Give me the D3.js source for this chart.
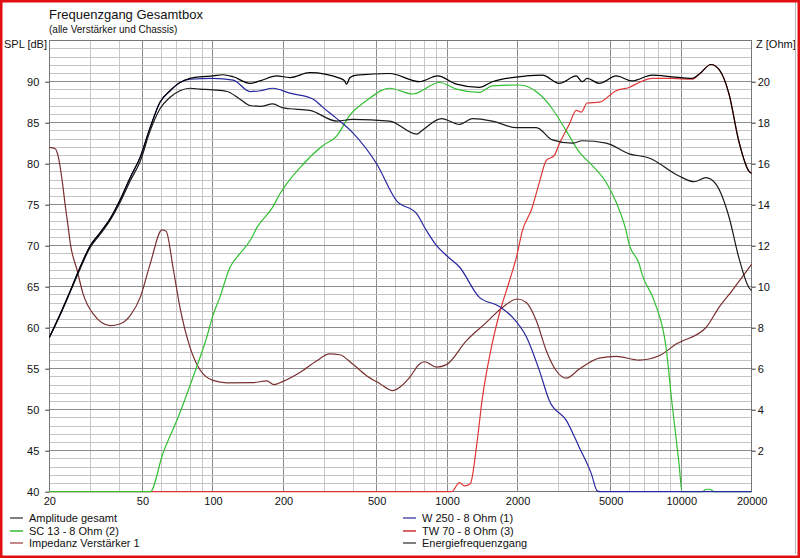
<!DOCTYPE html>
<html>
<head>
<meta charset="utf-8">
<script src="https://cdn.jsdelivr.net/npm/d3@7"></script>
<style>
  body { margin: 0; background: #fff; }
  svg text { font-family: "Liberation Sans", Arial, sans-serif; fill: #111; }
</style>
</head>
<body>
<div class="canvas"></div>
<script>
// [frequency Hz, value] pairs
const ampGesamt = [[20,58.8],[22.3,61.7],[24.6,64.5],[27.1,67.4],[29.9,70.0],[33,71.6],[36.4,73.3],[40,75.5],[44.3,78.3],[48.9,80.8],[53.9,84.4],[59.4,87.5],[65.6,88.9],[72.3,89.9],[79.8,90.4],[88,90.6],[100,90.7],[110,90.85],[122,90.6],[144,89.8],[159,90.1],[187,90.7],[213,90.5],[259,91.1],[350,90.4],[365,90.1],[372,89.7],[385,90.5],[411,90.8],[568,91.0],[763,90.0],[910,90.7],[1096,89.7],[1374,89.3],[1562,90.0],[2180,90.7],[2552,90.8],[3014,89.8],[3562,90.7],[3778,90.0],[3968,90.4],[4464,89.8],[5276,90.7],[6170,90.1],[7510,90.8],[9140,90.6],[11120,90.4],[11920,90.9],[13400,92.1],[14500,91.5],[16000,88.5],[17600,82.8],[19450,79.1],[20000,78.8]];

const energie = [[20,58.8],[22.3,61.6],[24.6,64.4],[27.1,67.2],[29.9,69.8],[33,71.4],[36.4,73.1],[40,75.2],[44.3,77.9],[48.9,80.3],[53.9,84.0],[59.4,86.7],[65.6,88.1],[72.3,88.9],[79.8,89.2],[88,89.1],[100,89.0],[115,88.8],[130,87.9],[144,87.1],[160,87.0],[180,87.3],[199,86.8],[213,86.7],[259,86.5],[338,85.2],[395,85.4],[568,85.2],[741,83.6],[786,84.1],[946,85.5],[1130,84.8],[1284,85.5],[1562,85.2],[1978,84.4],[2406,84.4],[2814,82.9],[3426,82.5],[3778,82.8],[4782,82.5],[5992,81.2],[7292,80.7],[9790,78.5],[11350,77.8],[12760,78.3],[14070,77.5],[16000,73.5],[17600,68.6],[19450,64.9],[20000,64.5]];

const w250 = [[20,58.8],[22.3,61.7],[24.6,64.5],[27.1,67.4],[29.9,70.0],[33,71.6],[36.4,73.3],[40,75.5],[44.3,78.3],[48.9,80.8],[53.9,84.4],[59.4,87.5],[65.6,88.9],[72.3,89.9],[79.8,90.3],[100,90.4],[122,90.2],[144,88.8],[159,88.9],[180,89.2],[213,88.6],[267,87.9],[294,86.9],[338,85.5],[395,83.8],[500,80.0],[608,75.5],[741,73.9],[818,71.8],[902,70.0],[994,68.8],[1130,67.4],[1374,63.7],[1672,62.6],[1900,61.3],[2180,58.9],[2477,54.8],[2734,51.1],[3230,48.7],[3670,45.4],[4130,42.2],[4376,40.1],[4500,40],[20000,40]];

const sc13 = [[20,40],[54,40],[61,44.6],[72,49.5],[82,53.9],[94,58.8],[100,61.5],[107,63.7],[118,67.3],[130,69.0],[144,70.6],[154,72.2],[180,74.7],[193,76.3],[235,79.5],[294,82.2],[338,83.4],[384,85.9],[453,87.7],[568,89.2],[712,88.5],[928,89.9],[1096,89.1],[1374,88.7],[1562,89.5],[2036,89.6],[2477,88.5],[2814,86.7],[3230,84.0],[3670,81.4],[4166,79.8],[4782,77.7],[5276,75.3],[5818,71.8],[5992,70.2],[6608,67.8],[6808,66.5],[7658,63.3],[8614,57.6],[9140,50.7],[9790,43.4],[10080,40],[12300,40],[12800,40.3],[13300,40.3],[13800,40],[20000,40]];

const tw70 = [[20,40],[1044,40],[1130,41.1],[1186,40.7],[1258,41.0],[1334,45.4],[1416,51.5],[1546,57.6],[1672,61.7],[1846,65.7],[1978,68.6],[2096,71.8],[2300,74.5],[2477,77.7],[2654,80.4],[2870,81.0],[3014,82.4],[3326,84.8],[3562,86.5],[3742,86.3],[3968,87.4],[4464,87.5],[5276,88.9],[5992,89.3],[6608,89.9],[7510,90.4],[9140,90.4],[11120,90.3],[11920,90.9],[13400,92.1],[14500,91.5],[16000,88.5],[17600,82.8],[19450,79.1],[20000,78.8]];

// impedance in Ohm (right axis)
const impedanz = [[20,16.8],[21.2,16.73],[21.8,16.39],[22.7,15.17],[23.4,13.95],[24.1,12.88],[24.6,12.1],[26.3,10.8],[27.9,9.64],[30.8,8.67],[36.4,8.1],[40,8.18],[44.3,8.59],[48.9,9.48],[53.9,11.1],[60.6,12.77],[63.1,12.7],[67.6,10.9],[72.3,8.99],[79.8,7.04],[88,5.95],[100,5.43],[115,5.31],[148,5.32],[170,5.41],[182,5.22],[199,5.38],[235,5.82],[278,6.39],[315,6.72],[348,6.68],[395,6.23],[453,5.66],[515,5.28],[585,4.93],[627,5.09],[692,5.58],[763,6.23],[802,6.34],[902,6.08],[994,6.2],[1210,7.37],[1472,8.26],[1722,8.99],[1996,9.40],[2180,9.23],[2406,8.34],[2654,6.88],[2926,5.90],[3230,5.54],[3670,5.98],[4464,6.52],[5276,6.60],[6608,6.42],[8040,6.63],[9506,7.20],[12760,8.01],[14500,8.99],[16470,9.80],[20000,11.1]];

const freqTicks = [20, 50, 100, 200, 500, 1000, 2000, 5000, 10000, 20000];
const splTicks = [40, 45, 50, 55, 60, 65, 70, 75, 80, 85, 90];
const zTicks = [2, 4, 6, 8, 10, 12, 14, 16, 18, 20];

const legendLeft = [
  { name: "Amplitude gesamt", color: "#555555" },
  { name: "SC 13 - 8 Ohm (2)", color: "#33bb33" },
  { name: "Impedanz Verstärker 1", color: "#b06060" }
];
const legendRight = [
  { name: "W 250 - 8 Ohm (1)", color: "#5555aa" },
  { name: "TW 70 - 8 Ohm (3)", color: "#cc3333" },
  { name: "Energiefrequenzgang", color: "#555555" }
];

const W = 800, H = 558;
const plot = { left: 49.3, right: 751.7, top: 40.7, bottom: 491.7 };

const svg = d3.select(".canvas").append("svg").attr("width", W).attr("height", H);

const x = d3.scaleLog().domain([20, 20000]).range([plot.left, plot.right]);
const y = d3.scaleLinear().domain([40, 95]).range([plot.bottom, plot.top]);
const z = d3.scaleLinear().domain([0, 22]).range([plot.bottom, plot.top]);

// vertical grid: 1-2-5 darker, others lighter
const vLines = [];
[10, 100, 1000, 10000].forEach((dec) => {
  for (let m = 1; m <= 9; m++) {
    const f = dec * m;
    if (f > 20 && f < 20000) vLines.push(f);
  }
});
svg.append("g")
  .selectAll("line")
  .data(vLines)
  .join("line")
  .attr("x1", (d) => x(d)).attr("x2", (d) => x(d))
  .attr("y1", plot.top).attr("y2", plot.bottom)
  .attr("stroke", (d) => ([1, 2, 5].includes(+String(d)[0]) ? "#8c8c8c" : "#c8c8c8"))
  .attr("stroke-width", 1)
  .attr("shape-rendering", "crispEdges");

// horizontal grid every 1 dB
svg.append("g")
  .selectAll("line")
  .data(d3.range(41, 95))
  .join("line")
  .attr("x1", plot.left).attr("x2", plot.right)
  .attr("y1", (d) => y(d)).attr("y2", (d) => y(d))
  .attr("stroke", (d) => (d % 5 === 0 ? "#8c8c8c" : "#c4c4c4"))
  .attr("stroke-width", 1)
  .attr("shape-rendering", "crispEdges");

// frame
svg.append("rect")
  .attr("x", plot.left).attr("y", plot.top)
  .attr("width", plot.right - plot.left).attr("height", plot.bottom - plot.top)
  .attr("fill", "none").attr("stroke", "#777")
  .attr("shape-rendering", "crispEdges");

// axes
const xAxis = svg.append("g").attr("transform", `translate(0, ${plot.bottom})`)
  .call(d3.axisBottom(x).tickValues(freqTicks).tickFormat(d3.format("d")).tickSize(0).tickPadding(6));
const yAxis = svg.append("g").attr("transform", `translate(${plot.left}, 0)`)
  .call(d3.axisLeft(y).tickValues(splTicks).tickSize(4).tickPadding(6));
const zAxis = svg.append("g").attr("transform", `translate(${plot.right}, 0)`)
  .call(d3.axisRight(z).tickValues(zTicks).tickSize(4).tickPadding(2));
[xAxis, yAxis, zAxis].forEach((a) => {
  a.select(".domain").remove();
  a.selectAll("text").attr("font-size", 11).attr("fill", "#111")
    .attr("font-family", "Liberation Sans, Arial, sans-serif");
  a.selectAll("line").attr("stroke", "#333");
});
xAxis.selectAll("line").remove();

// curves on top of grid and axes
svg.append("clipPath").attr("id", "clip")
  .append("rect")
  .attr("x", plot.left).attr("y", plot.top - 2)
  .attr("width", plot.right - plot.left).attr("height", plot.bottom - plot.top + 5);

const splLine = d3.line().x((d) => x(d[0])).y((d) => y(d[1])).curve(d3.curveMonotoneX);
const zLine = d3.line().x((d) => x(d[0])).y((d) => z(d[1])).curve(d3.curveMonotoneX);

const curves = svg.append("g").attr("clip-path", "url(#clip)");
const series = [
  { data: impedanz, line: zLine, color: "#7a3030" },
  { data: tw70, line: splLine, color: "#e03535" },
  { data: sc13, line: splLine, color: "#33c033" },
  { data: w250, line: splLine, color: "#2828a0" },
  { data: energie, line: splLine, color: "#1a1a1a" },
  { data: ampGesamt, line: splLine, color: "#000" }
];
series.forEach((s) => {
  curves.append("path")
    .datum(s.data)
    .attr("d", s.line)
    .attr("fill", "none")
    .attr("stroke", s.color)
    .attr("stroke-width", 1.2)
    .attr("stroke-linejoin", "round");
});

// titles
svg.append("text").attr("x", 49).attr("y", 19).attr("font-size", 13).text("Frequenzgang Gesamtbox");
svg.append("text").attr("x", 49).attr("y", 33).attr("font-size", 10).text("(alle Verstärker und Chassis)");
svg.append("text").attr("x", 4).attr("y", 48).attr("font-size", 11).text("SPL [dB]");
svg.append("text").attr("x", 756).attr("y", 48).attr("font-size", 11).text("Z [Ohm]");

// legend
const legRows = [518, 531, 543];
function drawLegend(items, x0) {
  const g = svg.append("g");
  items.forEach((d, i) => {
    g.append("line")
      .attr("x1", x0).attr("x2", x0 + 13)
      .attr("y1", legRows[i]).attr("y2", legRows[i])
      .attr("stroke", d.color).attr("stroke-width", 1.5);
    g.append("text")
      .attr("x", x0 + 19).attr("y", legRows[i] + 4)
      .attr("font-size", 11)
      .text(d.name);
  });
}
drawLegend(legendLeft, 10);
drawLegend(legendRight, 403);

// window frame
svg.append("line").attr("x1", 795).attr("x2", 795).attr("y1", 0).attr("y2", 554)
  .attr("stroke", "#bbb").attr("shape-rendering", "crispEdges");
svg.append("rect")
  .attr("x", 1).attr("y", 1).attr("width", W - 2).attr("height", H - 2)
  .attr("fill", "none").attr("stroke", "#e01010").attr("stroke-width", 3);
</script>
</body>
</html>
